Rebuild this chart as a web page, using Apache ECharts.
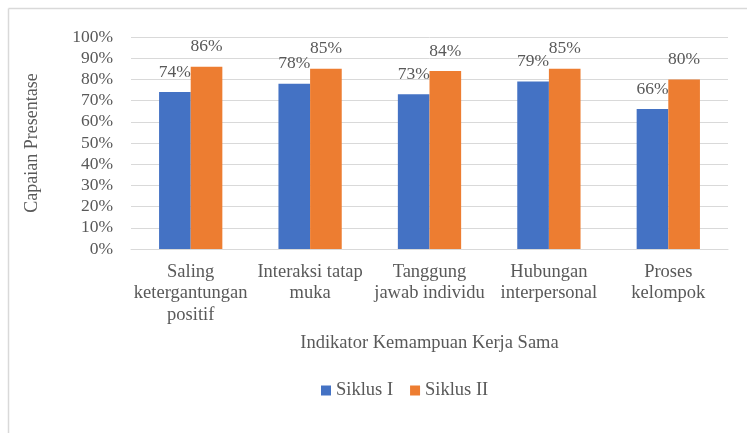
<!DOCTYPE html>
<html>
<head>
<meta charset="utf-8">
<script src="https://cdn.jsdelivr.net/npm/echarts@6/dist/echarts.min.js"></script>
<style>
html,body{margin:0;padding:0;background:#fff;}
#chart{width:747px;height:433px;}
</style>
</head>
<body>
<div id="chart"></div>
<script>
const categories = ["Saling\nketergantungan\npositif", "Interaksi tatap\nmuka", "Tanggung\njawab individu", "Hubungan\ninterpersonal", "Proses\nkelompok"];
const siklus1 = [74, 78, 73, 79, 66];
const siklus2 = [86, 85, 84, 85, 80];
const seriesNames = ["Siklus I", "Siklus II"];
const yTicks = [0, 10, 20, 30, 40, 50, 60, 70, 80, 90, 100];

const FONT = "'Liberation Serif', 'Times New Roman', serif";
const TXT = "#595959";
const chart = echarts.init(document.getElementById('chart'), null, {renderer: 'canvas'});
const labelCfg = {
  show: true, position: 'top', distance: 11,
  formatter: '{c}%', color: TXT, fontFamily: FONT, fontSize: 17.5
};
chart.setOption({
  animation: false,
  backgroundColor: '#fff',
  textStyle: {fontFamily: FONT},
  grid: {left: 131, right: 19, top: 37, bottom: 184, containLabel: false},
  graphic: [
    {type: 'line', shape: {x1: 8.5, y1: 8.5, x2: 747, y2: 8.5}, style: {stroke: '#d9d9d9', lineWidth: 1.5}},
    {type: 'line', shape: {x1: 8.5, y1: 8.5, x2: 8.5, y2: 433}, style: {stroke: '#d9d9d9', lineWidth: 1.5}}
  ],
  legend: {
    data: seriesNames,
    left: 316, top: 376,
    itemWidth: 10, itemHeight: 10, itemGap: 17,
    icon: 'rect',
    textStyle: {color: TXT, fontFamily: FONT, fontSize: 18.5}
  },
  xAxis: {
    type: 'category',
    data: categories,
    name: 'Indikator Kemampuan Kerja Sama',
    nameLocation: 'middle',
    nameGap: 85,
    nameTextStyle: {color: TXT, fontFamily: FONT, fontSize: 18.5},
    axisLine: {lineStyle: {color: '#d9d9d9', width: 1}},
    axisTick: {show: false},
    axisLabel: {interval: 0, color: TXT, fontFamily: FONT, fontSize: 18.5, lineHeight: 21.5, margin: 12}
  },
  yAxis: {
    type: 'value',
    min: yTicks[0], max: yTicks[yTicks.length - 1], interval: 10,
    name: 'Capaian Presentase',
    nameLocation: 'middle',
    nameGap: 90,
    nameTextStyle: {color: TXT, fontFamily: FONT, fontSize: 18},
    axisLine: {show: false},
    axisTick: {show: false},
    axisLabel: {formatter: '{value}%', color: TXT, fontFamily: FONT, fontSize: 17.5, margin: 18},
    splitLine: {lineStyle: {color: '#d9d9d9', width: 1}}
  },
  series: [
    {name: seriesNames[0], type: 'bar', data: siklus1, itemStyle: {color: '#4472C4'},
     barGap: '0%', barCategoryGap: '47%', label: labelCfg},
    {name: seriesNames[1], type: 'bar', data: siklus2, itemStyle: {color: '#ED7D31'},
     barGap: '0%', barCategoryGap: '47%', label: labelCfg}
  ]
});
</script>
</body>
</html>
